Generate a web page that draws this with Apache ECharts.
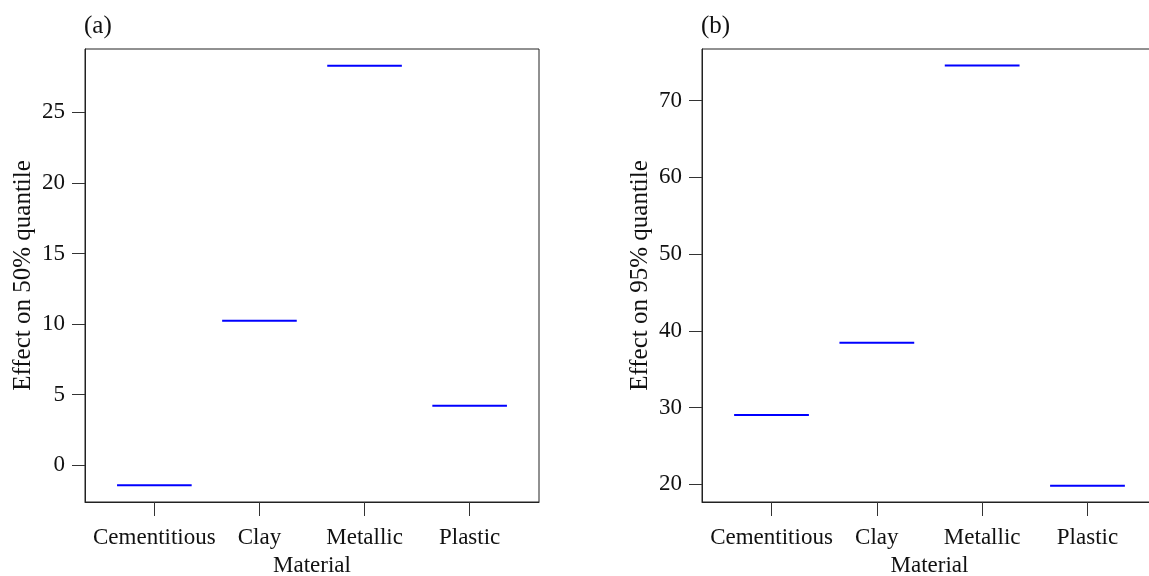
<!DOCTYPE html>
<html>
<head>
<meta charset="utf-8">
<script src="https://cdn.jsdelivr.net/npm/echarts@6/dist/echarts.min.js"></script>
<style>
  html, body { margin: 0; padding: 0; background: #fff; }
  #chart { width: 1149px; height: 576px; }
</style>
</head>
<body>
<div id="chart"></div>
<script>
// data
const materials = ['Cementitious', 'Clay', 'Metallic', 'Plastic']
const effect50 = [-1.41, 10.23, 28.30, 4.22]
const effect95 = [29.04, 38.44, 74.56, 19.82]
const ticks50 = [0, 5, 10, 15, 20, 25]
const ticks95 = [20, 30, 40, 50, 60, 70]
const catPos = [1, 2, 3, 4]

const FONT = 'Liberation Serif, Times New Roman, serif'
const HALF = 0.355 // half width of each level segment, x units

const chart = echarts.init(document.getElementById('chart'))

const xAxisFor = (gridIndex) => ({
    type: 'value',
    gridIndex,
    min: 0.34,
    max: 4.66,
    name: 'Material',
    nameLocation: 'middle',
    nameGap: 52,
    nameTextStyle: { fontFamily: FONT, fontSize: 23, color: '#111' },
    splitLine: { show: false },
    axisLine: { show: true, onZero: false, lineStyle: { color: '#222', width: 1 } },
    axisTick: { show: true, length: 14, customValues: catPos, lineStyle: { color: '#333', width: 1 } },
    axisLabel: {
        customValues: catPos,
        margin: 24,
        fontFamily: FONT,
        fontSize: 23,
        color: '#111',
        formatter: (v) => materials[Math.round(v) - 1] || ''
    }
})

const yAxisFor = (gridIndex, min, max, ticks, name) => ({
    type: 'value',
    gridIndex,
    min,
    max,
    name,
    nameLocation: 'middle',
    nameRotate: 90,
    nameGap: 49,
    nameTextStyle: { fontFamily: FONT, fontSize: 25, color: '#111' },
    splitLine: { show: false },
    axisLine: { show: true, onZero: false, lineStyle: { color: '#222', width: 1 } },
    axisTick: { show: true, length: 13, customValues: ticks, lineStyle: { color: '#333', width: 1 } },
    axisLabel: {
        customValues: ticks,
        margin: 20,
        fontFamily: FONT,
        fontSize: 23,
        color: '#111'
    }
})

const segmentSeries = (idx, values) => ({
    type: 'custom',
    xAxisIndex: idx,
    yAxisIndex: idx,
    data: values.map((v, i) => [catPos[i], v]),
    renderItem: (params, api) => {
        const x = api.value(0)
        const y = api.value(1)
        const a = api.coord([x - HALF, y])
        const b = api.coord([x + HALF, y])
        return {
            type: 'line',
            shape: { x1: a[0], y1: a[1], x2: b[0], y2: b[1] },
            style: { stroke: '#0000ff', lineWidth: 2 }
        }
    }
})

const option = {
    backgroundColor: '#fff',
    animation: false,
    title: [
        { text: '(a)', left: 84, top: 14, padding: 0, textStyle: { fontFamily: FONT, fontSize: 25, fontWeight: 'normal', color: '#111' } },
        { text: '(b)', left: 701, top: 14, padding: 0, textStyle: { fontFamily: FONT, fontSize: 25, fontWeight: 'normal', color: '#111' } }
    ],
    grid: [
        { left: 85, top: 49, width: 454, bottom: 74, outerBoundsMode: 'none', containLabel: false, show: true, borderColor: '#222', borderWidth: 1, backgroundColor: 'transparent' },
        // panel (b) runs past the right edge of the picture
        { left: 702, top: 49, width: 455, bottom: 74, outerBoundsMode: 'none', containLabel: false, show: true, borderColor: '#222', borderWidth: 1, backgroundColor: 'transparent' }
    ],
    xAxis: [xAxisFor(0), xAxisFor(1)],
    yAxis: [
        yAxisFor(0, -2.6, 29.48, ticks50, 'Effect on 50% quantile'),
        yAxisFor(1, 17.7, 76.72, ticks95, 'Effect on 95% quantile')
    ],
    series: [segmentSeries(0, effect50), segmentSeries(1, effect95)]
}

chart.setOption(option)
</script>
</body>
</html>
